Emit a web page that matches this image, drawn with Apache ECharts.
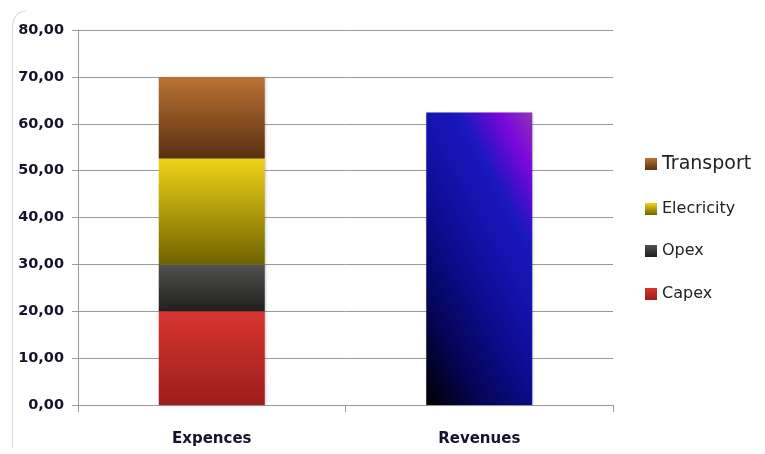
<!DOCTYPE html>
<html>
<head>
<meta charset="utf-8">
<script src="https://cdn.jsdelivr.net/npm/echarts@6/dist/echarts.min.js"></script>
<style>html,body{margin:0;padding:0;background:#fff}#c{width:765px;height:454px}</style>
</head>
<body>
<div id="c"></div>
<script>
var categories = ['Expences', 'Revenues'];
var capex = [20, null];
var opex = [10, null];
var electricity = [22.6, null];
var transport = [17.4, null];
var revenues = [null, 62.4];
var yTicks = [0, 10, 20, 30, 40, 50, 60, 70, 80];

function vgrad(top, bottom) {
  return {type: 'linear', x: 0, y: 0, x2: 0, y2: 1, colorStops: [
    {offset: 0, color: top}, {offset: 1, color: bottom}
  ]};
}
var shadow = {shadowColor: 'rgba(0,0,0,0.25)', shadowBlur: 3, shadowOffsetX: 1, shadowOffsetY: 0};
function itemStyle(c) { return Object.assign({color: c}, shadow); }

var revGrad = {type: 'linear', x: -0.46, y: 0.692, x2: 1.46, y2: 0.308, colorStops: [
  {offset: 0, color: '#000000'},
  {offset: 0.22, color: '#05055a'},
  {offset: 0.42, color: '#0c0c8e'},
  {offset: 0.56, color: '#1212aa'},
  {offset: 0.72, color: '#1818bc'},
  {offset: 0.8, color: '#4a0ecc'},
  {offset: 0.88, color: '#7a08da'},
  {offset: 1, color: '#9032b6'}
]};

var chart = echarts.init(document.getElementById('c'), null, {renderer: 'canvas'});
var labelColor = '#15152a';
var font = '"DejaVu Sans", Verdana, sans-serif';
function legendAt(name, top, size) {
  return {
    data: [name], orient: 'vertical', left: 645, top: top,
    itemWidth: 12, itemHeight: 12, icon: 'rect', itemGap: 0,
    textStyle: {fontFamily: font, fontSize: size, color: '#222', lineHeight: 20},
    padding: 0, selectedMode: false
  };
}
chart.setOption({
  animation: false,
  backgroundColor: '#fff',
  grid: {left: 78, right: 152, top: 30, bottom: 49, containLabel: false},
  legend: [
    legendAt('Transport', 154, 19),
    legendAt('Elecricity', 199, 16),
    legendAt('Opex', 241, 16),
    legendAt('Capex', 284, 16)
  ],
  graphic: [
    {type: 'line', silent: true, shape: {x1: 12.5, y1: 28, x2: 12.5, y2: 448}, style: {stroke: '#d4dcdf', lineWidth: 1.2}},
    {type: 'bezierCurve', silent: true, shape: {x1: 12.5, y1: 28, cpx1: 12.5, cpy1: 12, x2: 26, y2: 11}, style: {stroke: '#d4dcdf', lineWidth: 1.2, fill: null}}
  ],
  xAxis: {
    type: 'category', data: categories,
    axisLine: {lineStyle: {color: '#9a9a9a', width: 1}},
    axisTick: {show: true, length: 7, lineStyle: {color: '#9a9a9a'}},
    axisLabel: {fontFamily: font, fontWeight: 'bold', fontSize: 15, color: labelColor, margin: 27}
  },
  yAxis: {
    type: 'value', min: 0, max: 80, interval: 10,
    axisLine: {show: true, lineStyle: {color: '#9a9a9a', width: 1}},
    axisTick: {show: true, length: 6, lineStyle: {color: '#9a9a9a'}},
    splitLine: {lineStyle: {color: '#9a9a9a', width: 1}},
    axisLabel: {
      fontFamily: font, fontWeight: 'bold', fontSize: 14.5, color: labelColor, margin: 14,
      formatter: function (v) { return yTicks.indexOf(v) >= 0 ? v.toFixed(2).replace('.', ',') : ''; }
    }
  },
  series: [
    {name: 'Capex', type: 'bar', stack: 't', barWidth: 106, data: capex, itemStyle: itemStyle(vgrad('#d8352f', '#9c1e1b'))},
    {name: 'Opex', type: 'bar', stack: 't', barWidth: 106, data: opex, itemStyle: itemStyle(vgrad('#51514f', '#1f1f1d'))},
    {name: 'Elecricity', type: 'bar', stack: 't', barWidth: 106, data: electricity, itemStyle: itemStyle(vgrad('#efd318', '#706200'))},
    {name: 'Transport', type: 'bar', stack: 't', barWidth: 106, data: transport, itemStyle: itemStyle(vgrad('#ba7336', '#59300f'))},
    {name: 'Revenues', type: 'bar', stack: 't', barWidth: 106, data: revenues, itemStyle: itemStyle(revGrad)}
  ]
});
</script>
</body>
</html>
